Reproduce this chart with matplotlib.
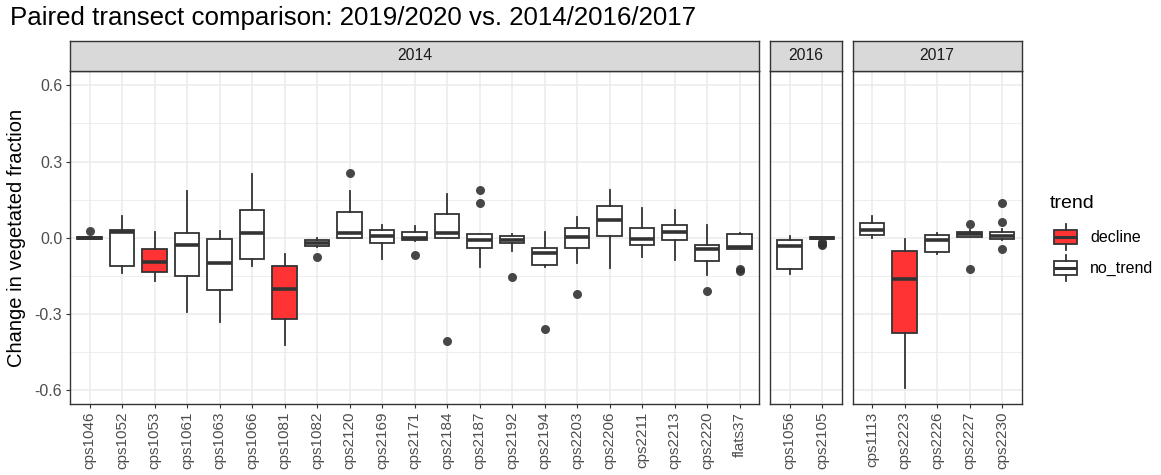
import matplotlib.pyplot as plt
from matplotlib.patches import Rectangle
from matplotlib.ticker import FixedLocator

plt.rcParams['font.family'] = ['Liberation Sans', 'DejaVu Sans']

# transects, grouped by the year of the earlier survey
years = ['2014', '2016', '2017']
sites = ['cps1046', 'cps1052', 'cps1053', 'cps1061', 'cps1063', 'cps1066',
         'cps1081', 'cps1082', 'cps2120', 'cps2169', 'cps2171', 'cps2184',
         'cps2187', 'cps2192', 'cps2194', 'cps2203', 'cps2206', 'cps2211',
         'cps2213', 'cps2220', 'flats37',
         'cps1056', 'cps2105',
         'cps1113', 'cps2223', 'cps2226', 'cps2227', 'cps2230']
site_year = (['2014'] * 21) + (['2016'] * 2) + (['2017'] * 5)
trend = ['no_trend', 'no_trend', 'decline', 'no_trend', 'no_trend', 'no_trend',
         'decline', 'no_trend', 'no_trend', 'no_trend', 'no_trend', 'no_trend',
         'no_trend', 'no_trend', 'no_trend', 'no_trend', 'no_trend', 'no_trend',
         'no_trend', 'no_trend', 'no_trend',
         'no_trend', 'no_trend',
         'no_trend', 'decline', 'no_trend', 'no_trend', 'no_trend']

# box summaries of the change in vegetated fraction
med = [0.000, 0.024, -0.095, -0.030, -0.100, 0.018, -0.201, -0.022, 0.020,
       0.008, -0.001, 0.017, -0.009, -0.009, -0.062, 0.003, 0.070, -0.004,
       0.021, -0.046, -0.037,
       -0.033, -0.001,
       0.030, -0.164, -0.011, 0.014, 0.008]
q1 = [-0.005, -0.110, -0.134, -0.150, -0.208, -0.085, -0.321, -0.033, -0.003,
      -0.022, -0.009, -0.003, -0.042, -0.022, -0.108, -0.041, 0.005, -0.030,
      -0.008, -0.091, -0.043,
      -0.122, -0.004,
      0.011, -0.377, -0.055, 0.004, -0.007]
q3 = [0.003, 0.030, -0.043, 0.020, -0.005, 0.110, -0.113, -0.011, 0.101,
      0.030, 0.021, 0.092, 0.016, 0.007, -0.042, 0.038, 0.126, 0.037,
      0.051, -0.029, 0.013,
      -0.009, 0.001,
      0.058, -0.051, 0.011, 0.024, 0.021]
whis_lo = [-0.006, -0.141, -0.170, -0.292, -0.331, -0.112, -0.423, -0.035, -0.003,
           -0.083, -0.012, -0.003, -0.116, -0.053, -0.114, -0.099, -0.118, -0.078,
           -0.088, -0.146, -0.043,
           -0.143, -0.005,
           0.000, -0.594, -0.066, 0.002, -0.009]
whis_hi = [0.004, 0.087, 0.022, 0.185, 0.028, 0.250, -0.066, 0.000, 0.185,
           0.051, 0.045, 0.171, 0.016, 0.013, 0.024, 0.080, 0.189, 0.117,
           0.108, 0.049, 0.017,
           0.008, 0.003,
           0.084, -0.005, 0.020, 0.030, 0.033]
outliers = [[0.026], [], [], [], [], [], [], [-0.078], [0.255],
            [], [-0.068], [-0.406], [0.138, 0.189], [-0.154], [-0.360], [-0.221], [], [],
            [], [-0.210], [-0.125, -0.133],
            [], [-0.016, -0.025, -0.030],
            [], [], [], [0.055, -0.124], [0.063, 0.135, -0.046]]

fill_colors = {'decline': '#FF3333', 'no_trend': '#FFFFFF'}
line_col = '#333333'
grid_col = '#EBEBEB'

W, H = 1161, 475
fig = plt.figure(figsize=(W / 100, H / 100), dpi=100)

unit = 689 / 21.2          # pixels per category slot
gap = 11
left, top, bottom = 70, 70.7, 404.3
strip_h = 30

x0 = left
axes = []
for yr in years:
    idx = [i for i, y in enumerate(site_year) if y == yr]
    n = len(idx)
    w = (n - 1 + 1.2) * unit
    ax = fig.add_axes([x0 / W, 1 - bottom / H, w / W, (bottom - top) / H])
    sax = fig.add_axes([x0 / W, 1 - top / H, w / W, strip_h / H])
    x0 += w + gap

    stats = [dict(med=med[i], q1=q1[i], q3=q3[i], whislo=whis_lo[i],
                  whishi=whis_hi[i], fliers=outliers[i]) for i in idx]
    pos = list(range(n))
    bp = ax.bxp(stats, positions=pos, widths=0.75, patch_artist=True,
                showcaps=False, manage_ticks=False,
                boxprops=dict(edgecolor=line_col, linewidth=1.3),
                medianprops=dict(color=line_col, linewidth=2.6, solid_capstyle='butt'),
                whiskerprops=dict(color=line_col, linewidth=1.3),
                flierprops=dict(marker='o', markerfacecolor=line_col,
                                markeredgecolor='none', markersize=6.5, alpha=0.9))
    for patch, i in zip(bp['boxes'], idx):
        patch.set_facecolor(fill_colors[trend[i]])

    ax.set_xlim(-0.6, n - 1 + 0.6)
    ax.set_ylim(-0.657, 0.658)
    ax.set_xticks(pos)
    ax.set_xticklabels([sites[i] for i in idx], rotation=90, fontsize=11,
                       color='#4D4D4D')
    ax.set_yticks([-0.6, -0.3, 0.0, 0.3, 0.6])
    ax.yaxis.set_minor_locator(FixedLocator([-0.45, -0.15, 0.15, 0.45]))
    ax.set_axisbelow(True)
    ax.grid(True, which='major', color=grid_col, linewidth=1.1)
    ax.grid(True, which='minor', axis='y', color=grid_col, linewidth=0.6)
    ax.tick_params(which='major', length=3, width=0.8, color=line_col, pad=2.5)
    ax.tick_params(which='minor', length=0)
    if yr == years[0]:
        ax.set_yticklabels(['-0.6', '-0.3', '0.0', '0.3', '0.6'], fontsize=11.5,
                           color='#4D4D4D')
        ax.set_ylabel('Change in vegetated fraction', fontsize=14.5, labelpad=6)
    else:
        ax.tick_params(axis='y', which='both', left=False, labelleft=False)
    for sp in ax.spines.values():
        sp.set_color(line_col)
        sp.set_linewidth(1.0)

    sax.set_facecolor('#D9D9D9')
    sax.set_xticks([])
    sax.set_yticks([])
    for sp in sax.spines.values():
        sp.set_color(line_col)
        sp.set_linewidth(1.0)
    sax.text(0.5, 0.5, yr, ha='center', va='center', fontsize=11.3,
             color='#1A1A1A', transform=sax.transAxes)
    axes.append(ax)

fig.text(10 / W, 1 - 18 / H, 'Paired transect comparison: 2019/2020 vs. 2014/2016/2017',
         fontsize=18.6, ha='left', va='center')

# legend drawn as small boxplot keys
lax = fig.add_axes([1040 / W, 1 - 290 / H, 121 / W, 110 / H])
lax.set_xlim(1040, 1161)
lax.set_ylim(290, 180)
lax.axis('off')
lax.text(1050, 203, 'trend', fontsize=14, va='center', ha='left')
for key_y, lab in zip([237, 268], ['decline', 'no_trend']):
    lax.add_patch(Rectangle((1054, key_y - 7), 23, 14, facecolor=fill_colors[lab],
                            edgecolor=line_col, linewidth=1.3))
    lax.plot([1054, 1077], [key_y, key_y], color=line_col, linewidth=2.2,
             solid_capstyle='butt')
    lax.plot([1065.5, 1065.5], [key_y - 13, key_y - 7], color=line_col, linewidth=1.3)
    lax.plot([1065.5, 1065.5], [key_y + 7, key_y + 13], color=line_col, linewidth=1.3)
    lax.text(1090, key_y, lab, fontsize=11.5, va='center', ha='left')

fig.savefig('out.png', dpi=100)
